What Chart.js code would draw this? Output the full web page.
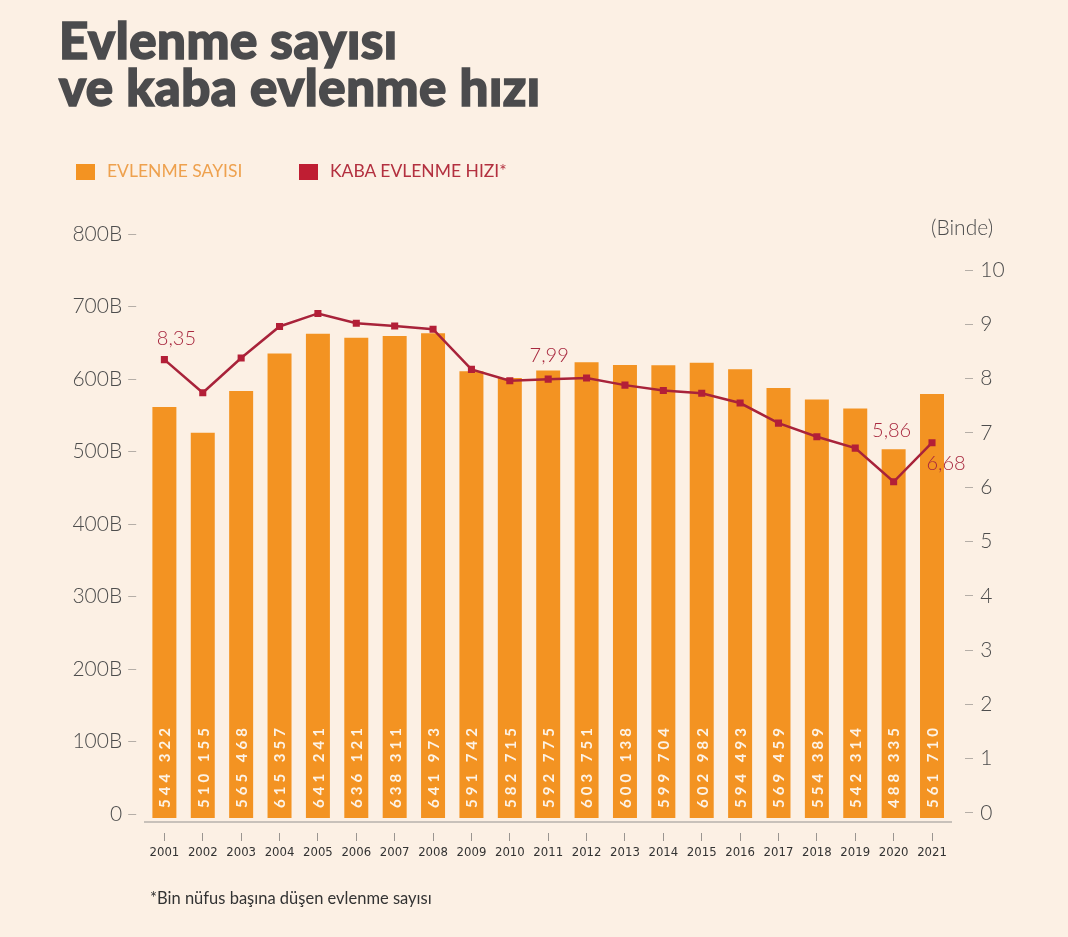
<!DOCTYPE html>
<html lang="tr">
<head>
<meta charset="utf-8">
<title>Evlenme sayısı ve kaba evlenme hızı</title>
<script src="https://cdn.jsdelivr.net/npm/chart.js@4.4.1/dist/chart.umd.min.js"></script>
<style>
  html, body { margin: 0; padding: 0; background: #fcf0e4; }
  #wrap { position: relative; width: 1068px; height: 937px; overflow: hidden; font-family: Lato, "Open Sans", sans-serif; }
  #chart { position: absolute; left: 0; top: 0; }
  .title { position: absolute; left: 59px; top: 16px; font-size: 51px; line-height: 47px; font-weight: 900; color: #4b4b4d; letter-spacing: 0.5px; -webkit-text-stroke: 1.6px #4b4b4d; white-space: nowrap; }
  .legend { position: absolute; top: 162px; font-size: 17.5px; line-height: 17px; white-space: nowrap; }
  .legend .sw { position: absolute; top: 2px; width: 19px; height: 16px; }
  .legend span.txt { position: absolute; white-space: nowrap; }
  .unit { position: absolute; left: 931px; top: 217px; font-size: 21px; line-height: 20px; color: #4d4d4d; font-weight: 300; }
  .note { position: absolute; left: 150px; top: 890px; font-size: 16.5px; line-height: 16px; color: #333; }
</style>
</head>
<body>
<div id="wrap">
  <canvas id="chart" width="1068" height="937"></canvas>
  <div class="title">Evlenme sayısı<br>ve kaba evlenme hızı</div>
  <div class="legend" style="left:76px">
    <div class="sw" style="left:0;background:#f39322"></div>
    <span class="txt" style="left:31px;color:#eea14e">EVLENME SAYISI</span>
  </div>
  <div class="legend" style="left:299px">
    <div class="sw" style="left:0;background:#bf1e33"></div>
    <span class="txt" style="left:31px;color:#b3303f">KABA EVLENME HIZI*</span>
  </div>
  <div class="unit">(Binde)</div>
  <div class="note">*Bin nüfus başına düşen evlenme sayısı</div>
</div>
<script>
const years = ["2001", "2002", "2003", "2004", "2005", "2006", "2007", "2008", "2009", "2010", "2011",
  "2012", "2013", "2014", "2015", "2016", "2017", "2018", "2019", "2020", "2021"];

// evlenme sayısı (printed inside the bars)
const marriages = [544322, 510155, 565468, 615357, 641241, 636121, 638311, 641973, 591742, 582715, 592775,
  603751, 600138, 599704, 602982, 594493, 569459, 554389, 542314, 488335, 561710];

// kaba evlenme hızı, binde
const rate = [8.35, 7.74, 8.38, 8.96, 9.20, 9.02, 8.97, 8.91, 8.17, 7.96, 7.99,
  8.01, 7.88, 7.78, 7.73, 7.55, 7.18, 6.93, 6.72, 6.10, 6.82];

// values printed next to some markers
const rateLabels = ["8,35", null, null, null, null, null, null, null, null, null, "7,99",
  null, null, null, null, null, null, null, null, "5,86", "6,68"];

const leftTicks = [0, 100000, 200000, 300000, 400000, 500000, 600000, 700000, 800000];
const rightTicks = [0, 1, 2, 3, 4, 5, 6, 7, 8, 9, 10];

const ORANGE = "#f39322";
const RED = "#a8233a";

function spaced(n) {
  return String(n).replace(/\B(?=(\d{3})+(?!\d))/g, " ");
}

// white numbers written upward inside each bar
const barText = {
  id: "barText",
  afterDatasetsDraw(chart) {
    const meta = chart.getDatasetMeta(0);
    const ctx = chart.ctx;
    ctx.save();
    ctx.fillStyle = "#fdf3e6";
    ctx.font = "bold 15px Lato, sans-serif";
    ctx.textAlign = "left";
    ctx.textBaseline = "middle";
    if ("letterSpacing" in ctx) ctx.letterSpacing = "4px";
    meta.data.forEach((bar, i) => {
      ctx.save();
      ctx.translate(bar.x + 1, bar.base - 10);
      ctx.rotate(-Math.PI / 2);
      ctx.fillText(spaced(marriages[i]), 0, 0);
      ctx.restore();
    });
    ctx.restore();
  }
};

// the few rate values printed near their markers
const labelOffsets = { 0: [12, -21], 10: [1, -24], 19: [-2, -51], 20: [14, 21] };
const rateText = {
  id: "rateText",
  afterDatasetsDraw(chart) {
    const meta = chart.getDatasetMeta(1);
    const ctx = chart.ctx;
    ctx.save();
    ctx.fillStyle = "#a8283f";
    ctx.font = "300 20px Lato, sans-serif";
    ctx.textAlign = "center";
    ctx.textBaseline = "middle";
    meta.data.forEach((pt, i) => {
      if (!rateLabels[i]) return;
      const off = labelOffsets[i] || [0, -22];
      ctx.fillText(rateLabels[i], pt.x + off[0], pt.y + off[1]);
    });
    ctx.restore();
  }
};

Chart.defaults.font.family = "Lato, 'Open Sans', sans-serif";

new Chart(document.getElementById("chart"), {
  type: "bar",
  data: {
    labels: years,
    datasets: [
      {
        label: "EVLENME SAYISI",
        data: marriages,
        backgroundColor: ORANGE,
        yAxisID: "yBar",
        barPercentage: 0.625,
        categoryPercentage: 1,
        order: 2
      },
      {
        type: "line",
        label: "KABA EVLENME HIZI*",
        data: rate,
        yAxisID: "yRate",
        borderColor: RED,
        borderWidth: 2.5,
        tension: 0,
        pointStyle: "rect",
        pointRadius: 5,
        pointBorderWidth: 0,
        pointBackgroundColor: "#b31f37",
        order: 1
      }
    ]
  },
  options: {
    responsive: false,
    animation: false,
    layout: { padding: { top: 234, left: 0, right: 0, bottom: 0 } },
    plugins: { legend: { display: false }, tooltip: { enabled: false } },
    scales: {
      x: {
        offset: true,
        afterFit: s => { s.height = 115; },
        border: { display: true, color: "#c8c1ba", width: 2 },
        grid: {
          offset: false,
          drawOnChartArea: false,
          tickLength: 20,
          tickColor: "#9a9590",
          tickWidth: 1,
          tickBorderDash: [0, 10, 8, 60]
        },
        ticks: {
          color: "#333",
          padding: 3,
          maxRotation: 0,
          autoSkip: false,
          font: { family: "'Liberation Sans Narrow', 'DejaVu Sans Condensed', sans-serif", size: 13 }
        }
      },
      // printed bars use their own, slightly larger scale than the axis labels
      yBar: {
        display: false,
        min: -5298,
        max: 773510
      },
      y: {
        position: "left",
        min: -11034,
        max: 800000,
        afterFit: s => { s.width = 145.2; },
        afterBuildTicks: s => { s.ticks = leftTicks.map(v => ({ value: v })); },
        border: { display: false },
        grid: {
          drawOnChartArea: false,
          tickLength: 17,
          tickColor: "#b5aea7",
          tickWidth: 1,
          tickBorderDash: [8, 60]
        },
        ticks: {
          color: "#4d4d4d",
          padding: 6,
          font: { size: 21, weight: 300 },
          callback: v => (v === 0 ? "0" : v / 1000 + "B")
        }
      },
      yRate: {
        position: "right",
        min: -0.166,
        max: 10.663,
        afterFit: s => { s.width = 116.8; },
        afterBuildTicks: s => { s.ticks = rightTicks.map(v => ({ value: v })); },
        border: { display: false },
        grid: {
          drawOnChartArea: false,
          tickLength: 22,
          tickColor: "#b5aea7",
          tickWidth: 1,
          tickBorderDash: [0, 14, 8, 60]
        },
        ticks: {
          color: "#4d4d4d",
          padding: 7,
          font: { size: 21, weight: 300 }
        }
      }
    }
  },
  plugins: [barText, rateText]
});
</script>
</body>
</html>
